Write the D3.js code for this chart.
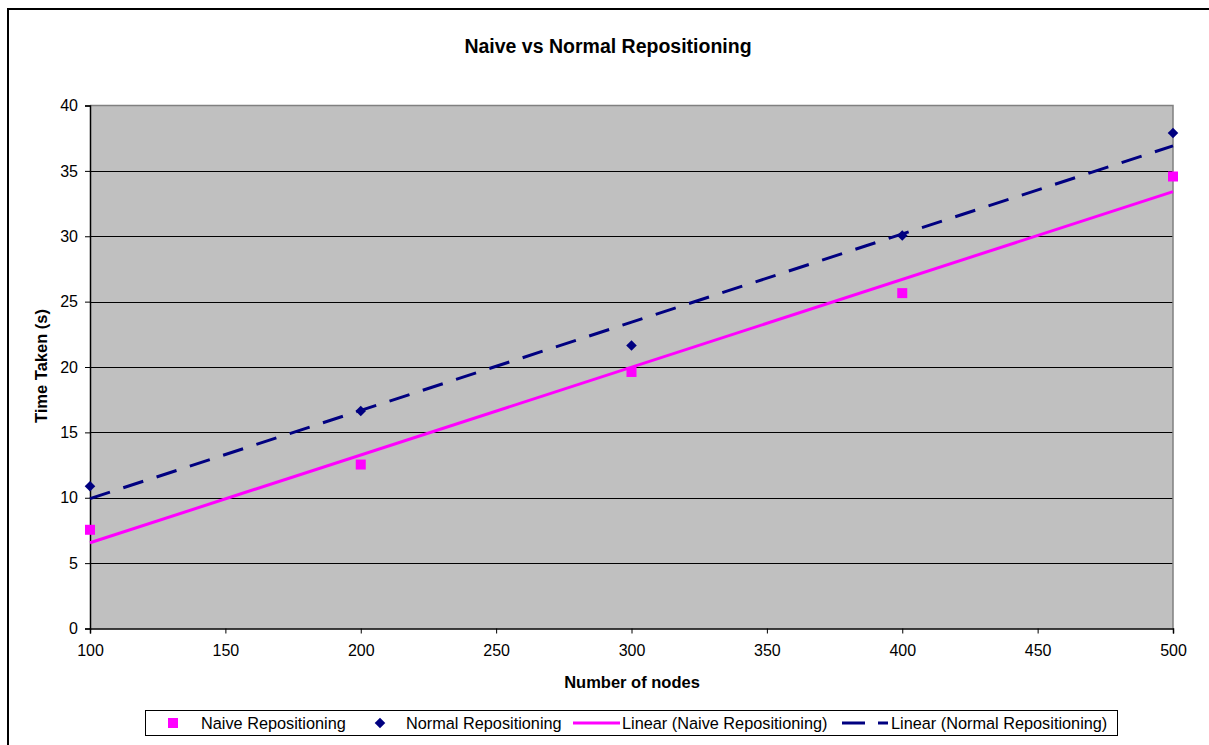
<!DOCTYPE html>
<html>
<head>
<meta charset="utf-8">
<script src="https://cdn.jsdelivr.net/npm/d3@7"></script>
<style>
  html, body { margin: 0; padding: 0; background: #fff; }
  svg { display: block; font-family: "Liberation Sans", Arial, sans-serif; }
</style>
</head>
<body>
<svg id="chart" width="1209" height="745"></svg>
<script>
// Number of nodes tested
const nodes = [100, 200, 300, 400, 500];
// Measured run times in seconds
const naiveTimes = [7.55, 12.54, 19.62, 25.65, 34.57];
const normalTimes = [10.88, 16.64, 21.64, 30.06, 37.9];
// Axis ticks
const xTicks = [100, 150, 200, 250, 300, 350, 400, 450, 500];
const yTicks = [0, 5, 10, 15, 20, 25, 30, 35, 40];

(function () {
const svg = d3.select("#chart");

// chart frame
svg.append("rect")
  .attr("x", 8).attr("y", 9).attr("width", 1230).attr("height", 760)
  .attr("fill", "#fff").attr("stroke", "#000").attr("stroke-width", 2);

const pLeft = 90, pRight = 1173, pTop = 105.5, pBottom = 628.5;
const x = d3.scaleLinear().domain([100, 500]).range([pLeft, pRight]);
const y = d3.scaleLinear().domain([0, 40]).range([pBottom, pTop]);

// plot background
svg.append("rect")
  .attr("x", pLeft).attr("y", pTop)
  .attr("width", pRight - pLeft).attr("height", pBottom - pTop)
  .attr("fill", "#c0c0c0");

// horizontal gridlines
svg.append("g").selectAll("line")
  .data(yTicks.filter(d => d > 0 && d < 40))
  .join("line")
  .attr("x1", pLeft).attr("x2", pRight)
  .attr("y1", d => Math.round(y(d)) + 0.5).attr("y2", d => Math.round(y(d)) + 0.5)
  .attr("stroke", "#000").attr("stroke-width", 1);

// plot border top/right
svg.append("path")
  .attr("d", `M${pLeft},${pTop}H${pRight}V${pBottom}`)
  .attr("fill", "none").attr("stroke", "#808080").attr("stroke-width", 1.5);

// axes
const yAxis = svg.append("g")
  .attr("transform", `translate(${pLeft},0)`)
  .call(d3.axisLeft(y).tickValues(yTicks).tickSize(5).tickPadding(7));
const xAxis = svg.append("g")
  .attr("transform", `translate(0,${pBottom})`)
  .call(d3.axisBottom(x).tickValues(xTicks).tickSize(5).tickPadding(11));
[xAxis, yAxis].forEach(g => {
  g.select(".domain").attr("stroke", "#000").attr("stroke-width", 1.5);
  g.selectAll(".tick line").attr("stroke", "#000");
  g.selectAll("text")
    .attr("font-family", "Liberation Sans, Arial, sans-serif")
    .attr("font-size", 16).attr("fill", "#000");
});

// least-squares trend line
function linearFit(xs, ys) {
  const mx = d3.mean(xs), my = d3.mean(ys);
  const slope = d3.sum(xs, (v, i) => (v - mx) * (ys[i] - my)) / d3.sum(xs, v => (v - mx) ** 2);
  const b = my - slope * mx;
  return t => slope * t + b;
}
const fitNaive = linearFit(nodes, naiveTimes);
const fitNormal = linearFit(nodes, normalTimes);
const ends = [100, 500];
const line = d3.line().x(d => x(d[0])).y(d => y(d[1]));

svg.append("path")
  .datum(ends.map(t => [t, fitNaive(t)]))
  .attr("d", line)
  .attr("fill", "none").attr("stroke", "#ff00ff").attr("stroke-width", 3);

svg.append("path")
  .datum(ends.map(t => [t, fitNormal(t)]))
  .attr("d", line)
  .attr("fill", "none").attr("stroke", "#000080").attr("stroke-width", 3)
  .attr("stroke-dasharray", "21,14");

// markers
const square = d3.symbol().type(d3.symbolSquare).size(100);
const diamond = d3.symbol().type(d3.symbolSquare).size(56);

svg.append("g").selectAll("path")
  .data(nodes.map((n, i) => [n, naiveTimes[i]]))
  .join("path")
  .attr("transform", d => `translate(${x(d[0])},${y(d[1])})`)
  .attr("d", square).attr("fill", "#ff00ff");

svg.append("g").selectAll("path")
  .data(nodes.map((n, i) => [n, normalTimes[i]]))
  .join("path")
  .attr("d", diamond)
  .attr("fill", "#000080")
  .attr("transform", d => `translate(${x(d[0])},${y(d[1])}) rotate(45)`);

// titles
svg.append("text")
  .attr("x", 608).attr("y", 53).attr("text-anchor", "middle")
  .attr("font-size", 19.5).attr("font-weight", "bold")
  .text("Naive vs Normal Repositioning");

svg.append("text")
  .attr("x", 632).attr("y", 688).attr("text-anchor", "middle")
  .attr("font-size", 16.5).attr("font-weight", "bold")
  .text("Number of nodes");

svg.append("text")
  .attr("transform", "translate(47,366) rotate(-90)")
  .attr("text-anchor", "middle")
  .attr("font-size", 16.5).attr("font-weight", "bold")
  .text("Time Taken (s)");

// legend
const legend = svg.append("g");
legend.append("rect")
  .attr("x", 145.5).attr("y", 710.5).attr("width", 972).attr("height", 25)
  .attr("fill", "#fff").attr("stroke", "#000").attr("stroke-width", 1);

const legendItems = [
  { label: "Naive Repositioning", kind: "square", mx: 173, tx: 201 },
  { label: "Normal Repositioning", kind: "diamond", mx: 380, tx: 406 },
  { label: "Linear (Naive Repositioning)", kind: "solid", mx: 573, tx: 622 },
  { label: "Linear (Normal Repositioning)", kind: "dashed", mx: 842, tx: 891 }
];
const ly = 723;
legendItems.forEach(it => {
  if (it.kind === "square") {
    legend.append("path").attr("transform", `translate(${it.mx},${ly})`)
      .attr("d", square).attr("fill", "#ff00ff");
  } else if (it.kind === "diamond") {
    legend.append("path").attr("transform", `translate(${it.mx},${ly}) rotate(45)`)
      .attr("d", diamond).attr("fill", "#000080");
  } else if (it.kind === "solid") {
    legend.append("line").attr("x1", it.mx).attr("x2", it.tx - 2)
      .attr("y1", ly).attr("y2", ly).attr("stroke", "#ff00ff").attr("stroke-width", 3);
  } else {
    legend.append("line").attr("x1", it.mx).attr("x2", it.tx - 3)
      .attr("y1", ly).attr("y2", ly).attr("stroke", "#000080").attr("stroke-width", 3)
      .attr("stroke-dasharray", "23,13");
  }
  legend.append("text").attr("x", it.tx).attr("y", ly + 6)
    .attr("font-size", 16.3).text(it.label);
});
})();
</script>
</body>
</html>
